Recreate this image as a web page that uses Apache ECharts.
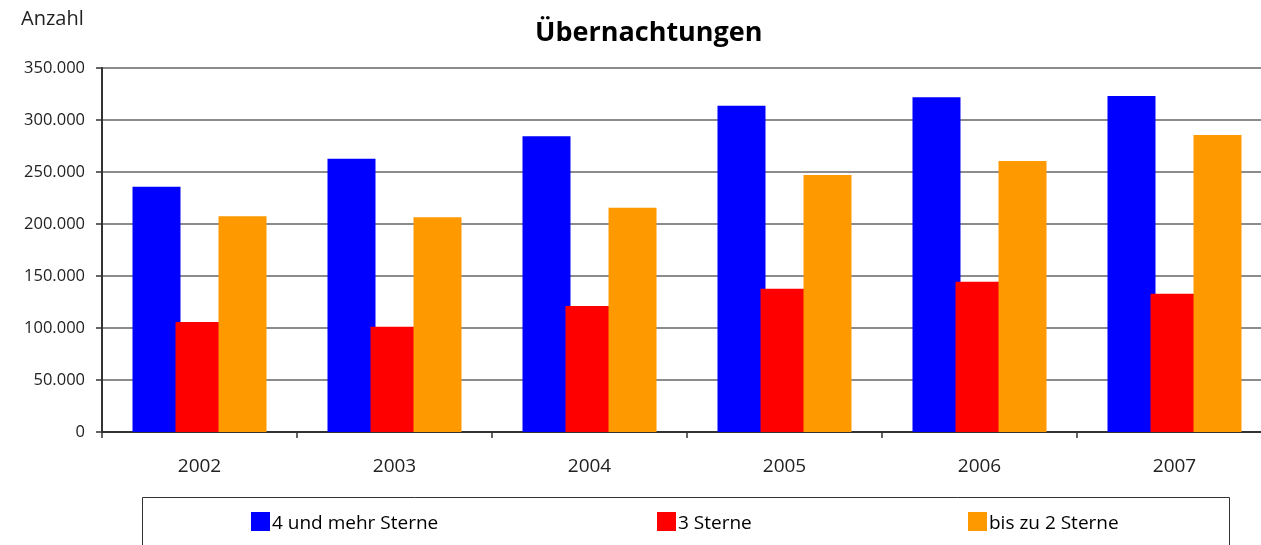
<!DOCTYPE html>
<html>
<head>
<meta charset="utf-8">
<script src="https://cdn.jsdelivr.net/npm/echarts@6/dist/echarts.min.js"></script>
<style>
html,body{margin:0;padding:0;background:#fff;overflow:hidden;width:1261px;height:545px;}
#chart{width:1272px;height:545px;}
</style>
</head>
<body>
<div id="chart"></div>
<script>
const categories = ['2002', '2003', '2004', '2005', '2006', '2007'];
const seriesNames = ['4 und mehr Sterne', '3 Sterne', 'bis zu 2 Sterne'];
const vierUndMehr = [235800, 262800, 284300, 313800, 321800, 323000];
const dreiSterne = [105800, 101200, 121200, 137800, 144500, 133000];
const bisZuZwei = [207400, 206500, 215700, 247100, 260600, 285600];
const colors = ['#0000FF', '#FF0000', '#FF9900'];

const FONT = '"Open Sans", "Noto Sans", sans-serif';
const fmt = v => String(v).replace(/\B(?=(\d{3})+(?!\d))/g, '.');

const chart = echarts.init(document.getElementById('chart'));
const dataSets = [vierUndMehr, dreiSterne, bisZuZwei];
const legendLefts = [246, 652, 963];
chart.setOption({
  animation: false,
  backgroundColor: '#fff',
  textStyle: { fontFamily: FONT },
  title: {
    text: 'Übernachtungen',
    left: 530, top: 15,
    textStyle: { fontFamily: FONT, fontSize: 27, fontWeight: 'bold', color: '#000' }
  },
  grid: { left: 102, right: 0, top: 68, bottom: 113, containLabel: false },
  legend: seriesNames.map((n, i) => ({
    data: [n],
    left: legendLefts[i], top: 507,
    itemWidth: 19, itemHeight: 19,
    itemGap: 0,
    icon: 'rect',
    formatter: '{t|{name}}',
    textStyle: {
      fontFamily: FONT, fontSize: 19, color: '#000',
      rich: { t: { fontFamily: FONT, fontSize: 19, color: '#000', padding: [5, 0, 0, -3] } }
    }
  })),
  graphic: [
    { type: 'rect', shape: { x: 142.5, y: 497.5, width: 1087, height: 70 },
      style: { fill: 'none', stroke: '#333', lineWidth: 1 }, silent: true },
    { type: 'text', x: 21, y: 9,
      style: { text: 'Anzahl', font: '20px ' + FONT, fill: '#222' } }
  ],
  xAxis: {
    type: 'category',
    data: categories,
    axisLine: { lineStyle: { color: '#333', width: 2 } },
    axisTick: { show: true, length: 6, lineStyle: { color: '#333', width: 1.5 } },
    axisLabel: { fontSize: 19, color: '#222', margin: 25, fontFamily: FONT },
    splitLine: { show: false }
  },
  yAxis: {
    type: 'value',
    min: 0, max: 350000, interval: 50000,
    axisLine: { show: true, lineStyle: { color: '#333', width: 2 } },
    axisTick: { show: true, length: 6, lineStyle: { color: '#333', width: 1.5 } },
    axisLabel: { fontSize: 16.5, color: '#222', margin: 17, fontFamily: FONT, formatter: fmt },
    splitLine: { lineStyle: { color: '#666', width: 1.5 } }
  },
  series: dataSets.map((d, i) => ({
    name: seriesNames[i],
    type: 'bar',
    data: d,
    barWidth: 48,
    barGap: '-10.4%',
    itemStyle: { color: colors[i] }
  }))
});
</script>
</body>
</html>
